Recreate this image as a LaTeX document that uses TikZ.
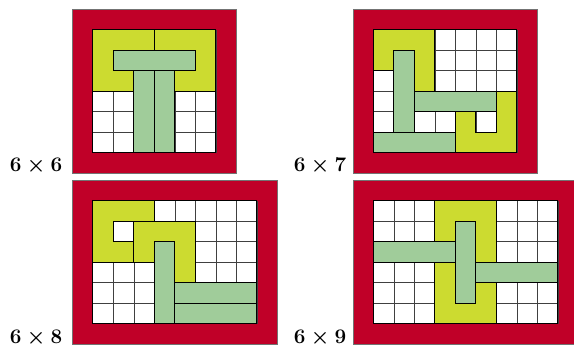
\documentclass[tikz,border=0pt]{standalone}
\definecolor{framered}{RGB}{192,0,40}
\definecolor{ylw}{RGB}{204,219,48}
\definecolor{grn}{RGB}{160,204,154}
\tikzset{
 frm/.style={fill=framered, draw=black!55, line width=0.6pt},
 gridlines/.style={draw=black!75, line width=0.6pt},
 ypiece/.style={fill=ylw, draw=black, line width=0.7pt},
 gpiece/.style={fill=grn, draw=black, line width=0.7pt},
 gridborder/.style={draw=black, line width=0.7pt},
 lbl/.style={anchor=base east, font=\fontsize{21}{22}\selectfont\boldmath, inner sep=0pt}
}
\newcommand{\cellgrid}[1]{%
 \fill[white] (0,0) rectangle (#1,6);
 \foreach \i in {1,...,#1} \draw[gridlines] (\i,0) -- (\i,6);
 \foreach \j in {1,...,5} \draw[gridlines] (0,\j) -- (#1,\j);
}
\begin{document}
\begin{tikzpicture}[x=1pt,y=-1pt]
\useasboundingbox (0,0) rectangle (574,348);
\clip (0,0) rectangle (574,348);
% panel 6x6
\begin{scope}[shift={(92.8,29.5)},x=20.5pt,y=-20.5pt]
 \draw[frm] (-1,-1) rectangle (7,7);
 \cellgrid{6}
 \draw[ypiece] (0,0) rectangle (3,3);
 \draw[ypiece] (3,0) rectangle (6,3);
 \draw[gpiece] (1,1) rectangle (5,2);
 \draw[gpiece] (2,2) rectangle (3,6);
 \draw[gpiece] (3,2) rectangle (4,6);
 \draw[gridborder] (0,0) rectangle (6,6);
\end{scope}
\node[lbl] (l66) at (62.5,171.5) {$6\times6$};
% panel 6x7
\begin{scope}[shift={(373.3,29.5)},x=20.5pt,y=-20.5pt]
 \draw[frm] (-1,-1) rectangle (8,7);
 \cellgrid{7}
 \draw[ypiece] (0,0)--(3,0)--(3,3)--(1,3)--(1,2)--(0,2)--cycle;
 \draw[ypiece] (4,4)--(4,6)--(7,6)--(7,3)--(6,3)--(6,5)--(5,5)--(5,4)--cycle;
 \draw[gpiece] (1,1) rectangle (2,5);
 \draw[gpiece] (2,3) rectangle (6,4);
 \draw[gpiece] (0,5) rectangle (4,6);
 \draw[gridborder] (0,0) rectangle (7,6);
\end{scope}
\node[lbl] (l67) at (346.5,171.5) {$6\times7$};
% panel 6x8
\begin{scope}[shift={(92.8,200.7)},x=20.5pt,y=-20.5pt]
 \draw[frm] (-1,-1) rectangle (9,7);
 \cellgrid{8}
 \draw[ypiece] (0,0)--(3,0)--(3,1)--(1,1)--(1,2)--(2,2)--(2,3)--(0,3)--cycle;
 \draw[ypiece] (2,1)--(5,1)--(5,4)--(4,4)--(4,2)--(3,2)--(3,3)--(2,3)--cycle;
 \draw[gpiece] (3,2) rectangle (4,6);
 \draw[gpiece] (4,4) rectangle (8,5);
 \draw[gpiece] (4,5) rectangle (8,6);
 \draw[gridborder] (0,0) rectangle (8,6);
\end{scope}
\node[lbl] (l68) at (62.5,343) {$6\times8$};
% panel 6x9
\begin{scope}[shift={(373.3,200.7)},x=20.5pt,y=-20.5pt]
 \draw[frm] (-1,-1) rectangle (10,7);
 \cellgrid{9}
 \draw[ypiece] (3,0) rectangle (6,6);
 \draw[gpiece] (0,2) rectangle (4,3);
 \draw[gpiece] (5,3) rectangle (9,4);
 \draw[gpiece] (4,1) rectangle (5,5);
 \draw[gridborder] (0,0) rectangle (9,6);
\end{scope}
\node[lbl] (l69) at (346.5,343) {$6\times9$};
\end{tikzpicture}
\end{document}
